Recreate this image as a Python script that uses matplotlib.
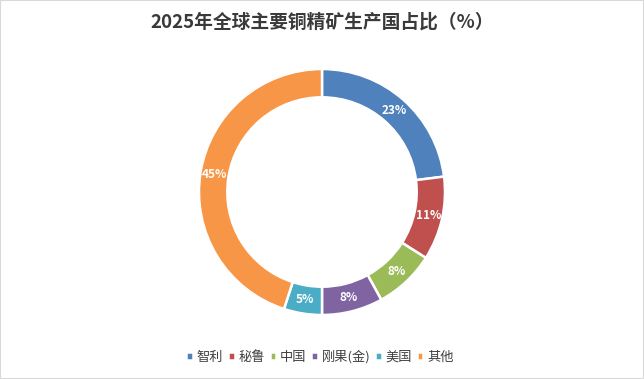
import matplotlib.pyplot as plt
from matplotlib.patches import Rectangle

plt.rcParams['font.family'] = ['Noto Sans CJK SC', 'DejaVu Sans']

countries = ['智利', '秘鲁', '中国', '刚果(金)', '美国', '其他']
shares = [23, 11, 8, 8, 5, 45]
colors = ['#4F81BD', '#C0504D', '#9BBB59', '#8064A2', '#4BACC6', '#F79646']

fig = plt.figure(figsize=(6.44, 3.79), dpi=100)
fig.patches.append(Rectangle((0, 0), 1, 1, transform=fig.transFigure,
                             fill=False, edgecolor='#D9D9D9', linewidth=1.5))

# donut centred at (322, 192) px, outer radius ~123 px
ax = fig.add_axes([0.5 - 0.191, 0.4934 - 0.3245, 0.382, 0.649])
wedges, texts, autotexts = ax.pie(
    shares, colors=colors, startangle=90, counterclock=False,
    radius=1, autopct='%d%%', pctdistance=0.885,
    wedgeprops=dict(width=0.23, edgecolor='white', linewidth=1.8),
    textprops=dict(color='white', fontsize=8.5, fontweight='bold'))
ax.set_xlim(-1.0, 1.0)
ax.set_ylim(-1.0, 1.0)
ax.set_aspect('auto')
ax.axis('off')

fig.text(0.5, 0.942, '2025年全球主要铜精矿生产国占比（%）', ha='center', va='center',
         fontsize=13.5, fontweight='bold', color='#3A3A3A')

leg = fig.legend(wedges, countries, loc='center', bbox_to_anchor=(0.497, 0.058),
                 ncol=6, frameon=False, fontsize=9.5, handlelength=0.5,
                 handleheight=0.5, handletextpad=0.3, columnspacing=0.35)
for t in leg.get_texts():
    t.set_color('#404040')

fig.savefig('out.png', dpi=100)
